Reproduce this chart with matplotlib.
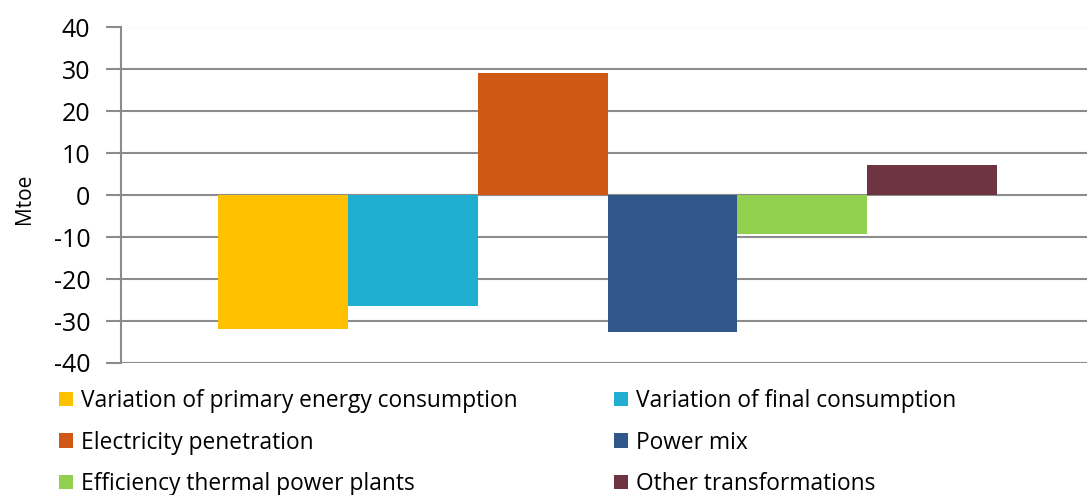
import matplotlib.pyplot as plt
from matplotlib.patches import Patch

# series (one category, six contributions)
labels = ["Variation of primary energy consumption", "Variation of final consumption",
          "Electricity penetration", "Power mix",
          "Efficiency thermal power plants", "Other transformations"]
values = [-31.8, -26.5, 29.1, -32.7, -9.2, 7.2]
colors = ["#FFC000", "#1FADD0", "#CF5816", "#31578A", "#92D050", "#6E3441"]
yticks = [-40, -30, -20, -10, 0, 10, 20, 30, 40]

plt.rcParams['font.family'] = ['Open Sans', 'DejaVu Sans']

W, H = 1087, 495
fig = plt.figure(figsize=(W / 100, H / 100), dpi=100)
ax = fig.add_axes([121 / W, 1 - 363 / H, 1 - 121 / W, (363 - 27.5) / H])

for i, (v, c) in enumerate(zip(values, colors)):
    ax.bar(i, v, width=1.0, color=c, zorder=3)

ax.set_ylim(-40, 40)
ax.set_xlim(-1.245, 6.19)
ax.set_yticks(yticks)
ax.set_yticklabels([str(t) for t in yticks], fontsize=18)
ax.set_xticks([])
ax.grid(axis='y', color='#8C8C8C', linewidth=1.5, zorder=0)
for s in ['top', 'right', 'bottom']:
    ax.spines[s].set_visible(False)
ax.spines['left'].set_color('#8C8C8C')
ax.spines['left'].set_linewidth(1.5)
ax.tick_params(axis='y', length=11, width=1.5, color='#8C8C8C', pad=11)
ax.set_ylabel("Mtoe", fontsize=15)
ax.yaxis.set_label_coords(-86 / (W - 121), 0.49)

handles = [Patch(facecolor=c, edgecolor='none') for c in colors]
kw = dict(loc='upper left', frameon=False, fontsize=16.4, borderpad=0, borderaxespad=0,
          handlelength=0.61, handleheight=0.61, handletextpad=0.36, labelspacing=0.77)
leg1 = fig.legend([handles[i] for i in (0, 2, 4)], [labels[i] for i in (0, 2, 4)],
                  bbox_to_anchor=(59 / W, 1 - 389 / H), **kw)
leg2 = fig.legend([handles[i] for i in (1, 3, 5)], [labels[i] for i in (1, 3, 5)],
                  bbox_to_anchor=(614 / W, 1 - 389 / H), **kw)

fig.savefig("out.png", dpi=100)
